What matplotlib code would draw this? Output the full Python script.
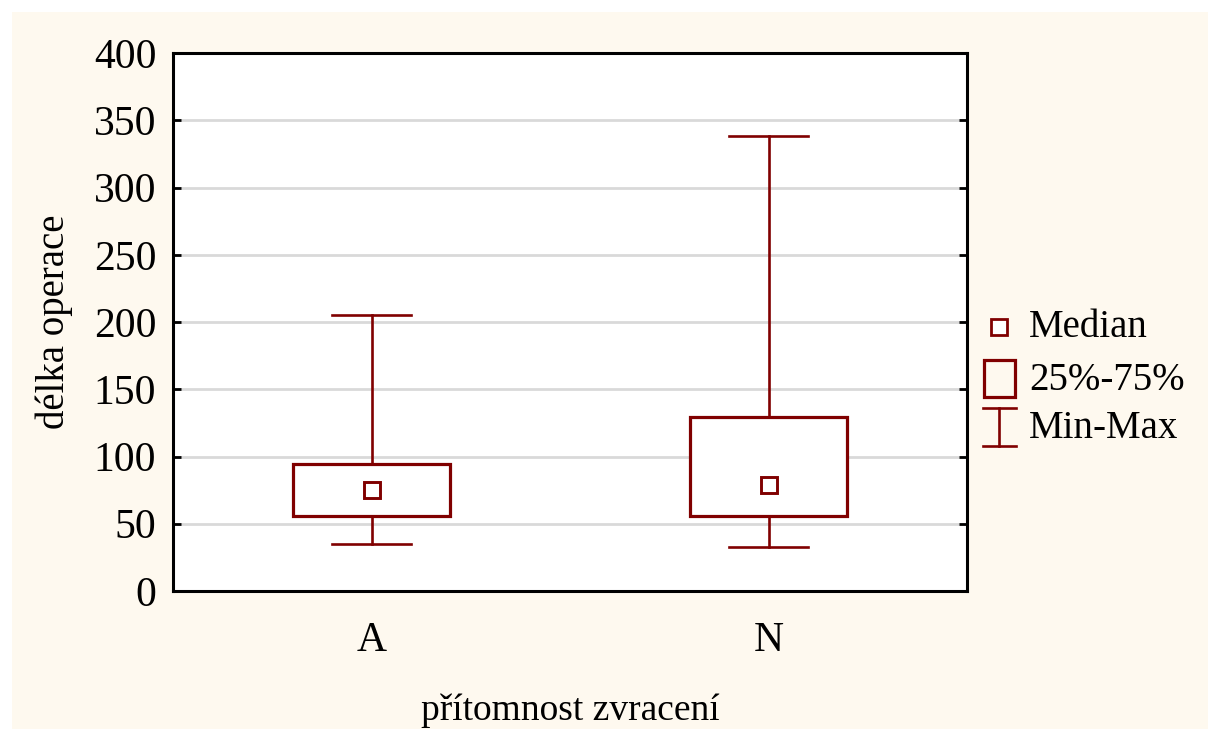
import matplotlib
matplotlib.use("Agg")
import matplotlib.pyplot as plt
from matplotlib.lines import Line2D
from matplotlib.patches import Rectangle

# box statistics
groups = ["A", "N"]
medians = [75, 79]
q1 = [56, 56]
q3 = [94.5, 129.5]
mins = [35, 33]
maxs = [205, 338]

y_ticks = [0, 50, 100, 150, 200, 250, 300, 350, 400]
x_label = "přítomnost zvracení"
y_label = "délka operace"
legend_labels = ["Median", "25%-75%", "Min-Max"]

RED = "#800000"
CREAM = "#FEF9EF"

plt.rcParams["font.family"] = ["Liberation Serif", "DejaVu Serif"]

fig = plt.figure(figsize=(12.08, 7.29), dpi=100)
fig.patches.append(Rectangle((12 / 1208, 0), 1, 1 - 12 / 729, transform=fig.transFigure,
                             facecolor=CREAM, edgecolor="none", zorder=-10))

ax = fig.add_axes([173 / 1208, 138 / 729, 794 / 1208, 538 / 729])
ax.set_facecolor("white")

stats = [dict(med=m, q1=a, q3=b, whislo=lo, whishi=hi, label=g)
         for g, m, a, b, lo, hi in zip(groups, medians, q1, q3, mins, maxs)]
pos = list(range(1, len(groups) + 1))
ax.bxp(stats, positions=pos, widths=0.395, capwidths=0.2, showfliers=False, patch_artist=True,
       boxprops=dict(facecolor="white", edgecolor=RED, linewidth=2.3),
       whiskerprops=dict(color=RED, linewidth=1.9),
       capprops=dict(color=RED, linewidth=1.9),
       medianprops=dict(linewidth=0), zorder=3)
ax.plot(pos, medians, ls="none", marker="s", ms=11, mfc="white", mec=RED, mew=2.1, zorder=4)

ax.set_xlim(0.5, len(groups) + 0.5)
ax.set_ylim(0, 400)
ax.set_yticks(y_ticks)
ax.set_xticks(pos)
ax.set_xticklabels(groups)
ax.yaxis.grid(True, color="#D9D9D9", linewidth=2.0, zorder=0)
ax.set_axisbelow(True)
ax.tick_params(axis="y", direction="in", length=6, width=2.0, labelsize=30, right=True, pad=12)
ax.tick_params(axis="x", length=0, labelsize=30, pad=22)
for s in ax.spines.values():
    s.set_linewidth(2.2)
    s.set_color("black")

ax.set_xlabel(x_label, fontsize=27, labelpad=24)
ax.set_ylabel(y_label, fontsize=28, labelpad=15)

# legend drawn by hand on the cream margin
tr = fig.transFigure
W, H = 1208, 729
rows_y = [327, 380, 428]
fig.add_artist(Line2D([999 / W], [1 - rows_y[0] / H], transform=tr, ls="none", marker="s", ms=11,
                      mfc="white", mec=RED, mew=2.0))
fig.add_artist(Rectangle((984 / W, 1 - 397 / H), 31 / W, 37 / H, transform=tr,
                         facecolor="none", edgecolor=RED, linewidth=2.3))
fig.add_artist(Line2D([999 / W, 999 / W], [1 - 408 / H, 1 - 446 / H], transform=tr, color=RED, lw=1.9))
for yy in (408, 446):
    fig.add_artist(Line2D([983 / W, 1016 / W], [1 - yy / H, 1 - yy / H], transform=tr, color=RED, lw=1.9))
for lab, yy in zip(legend_labels, rows_y):
    fig.text(1029 / W, 1 - yy / H, lab, fontsize=28, va="center", ha="left")

fig.savefig("out.png", dpi=100, facecolor="white")
